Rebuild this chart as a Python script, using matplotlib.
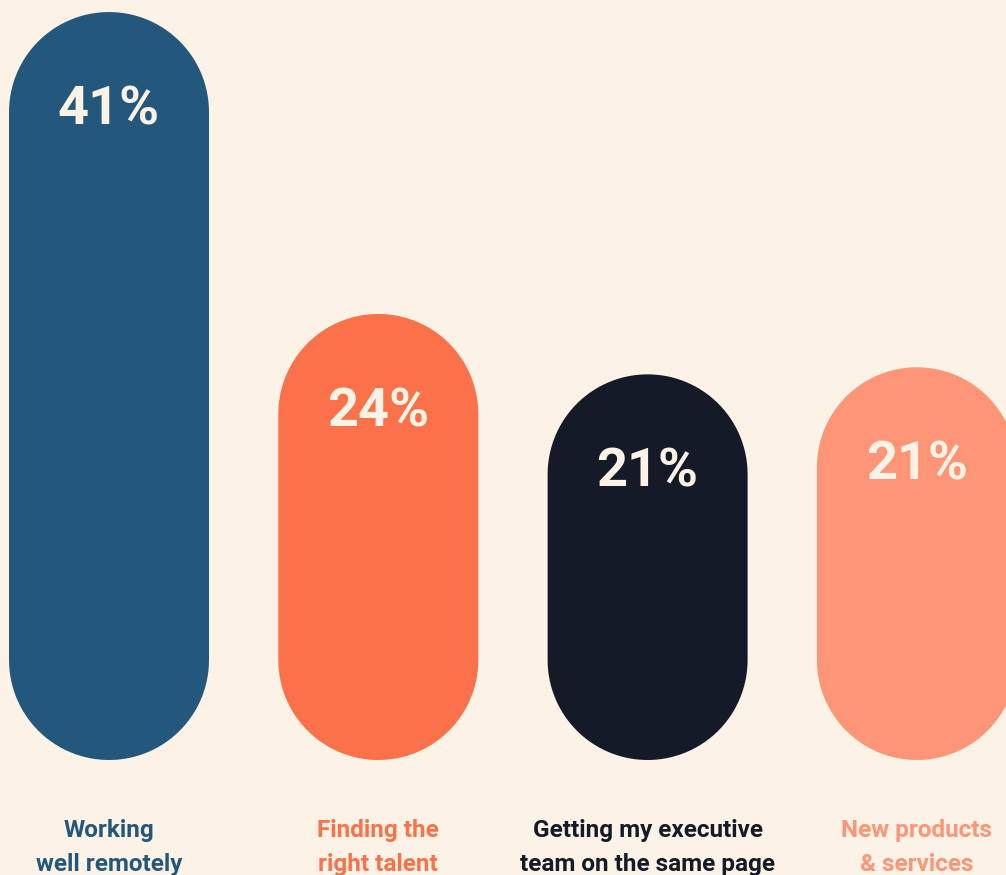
import numpy as np
import matplotlib.pyplot as plt
from matplotlib.patches import Polygon

# data
categories = ["Working\nwell remotely", "Finding the\nright talent",
              "Getting my executive\nteam on the same page", "New products\n& services"]
values = [41.0, 24.0, 20.6, 21.0]
bar_colors = ["#23577c", "#fa714a", "#141a27", "#ff9577"]
label_colors = ["#23577c", "#fa714a", "#141a27", "#ff9577"]

bg = "#fcf3e6"
W, H = 1006, 875
px_x = 269.3      # pixels per category step
px_y = 17.76      # pixels per percent
x0_px = 109       # first bar centre
base_px = 760     # bar bottom (from top)
base = -19.8 / px_y   # pill starts slightly below zero
bar_w = 200 / px_x

plt.rcParams['font.family'] = ['Roboto', 'DejaVu Sans']

fig = plt.figure(figsize=(W / 100, H / 100), dpi=100, facecolor=bg)
ax = fig.add_axes([0, 0, 1, 1])
ax.set_facecolor(bg)
ax.set_xlim(-x0_px / px_x, (W - x0_px) / px_x)
ax.set_ylim(base - (H - base_px) / px_y, base + base_px / px_y)
ax.axis("off")

rx = bar_w / 2
ry = rx * px_x / px_y   # keep the round ends circular on screen
t = np.linspace(0, np.pi, 60)


def pill(xc, y0, y1):
    top = np.column_stack([xc + rx * np.cos(t), y1 - ry + ry * np.sin(t)])
    bot = np.column_stack([xc - rx * np.cos(t), y0 + ry - ry * np.sin(t)])
    return np.vstack([top, bot])


for i, (v, c) in enumerate(zip(values, bar_colors)):
    ax.add_patch(Polygon(pill(i, base, v), closed=True, fc=c, ec="none"))
    ax.annotate(f"{round(v)}%", (i, v), xytext=(0, -81), textcoords="offset points",
                ha="center", va="baseline", fontsize=39, fontweight="bold", color=bg)
    ax.annotate(categories[i], (i, base), xytext=(0, -42.5), textcoords="offset points",
                ha="center", va="top", fontsize=17.5, fontweight="bold",
                color=label_colors[i], linespacing=1.6)

fig.savefig("out.png", dpi=100, facecolor=bg)
